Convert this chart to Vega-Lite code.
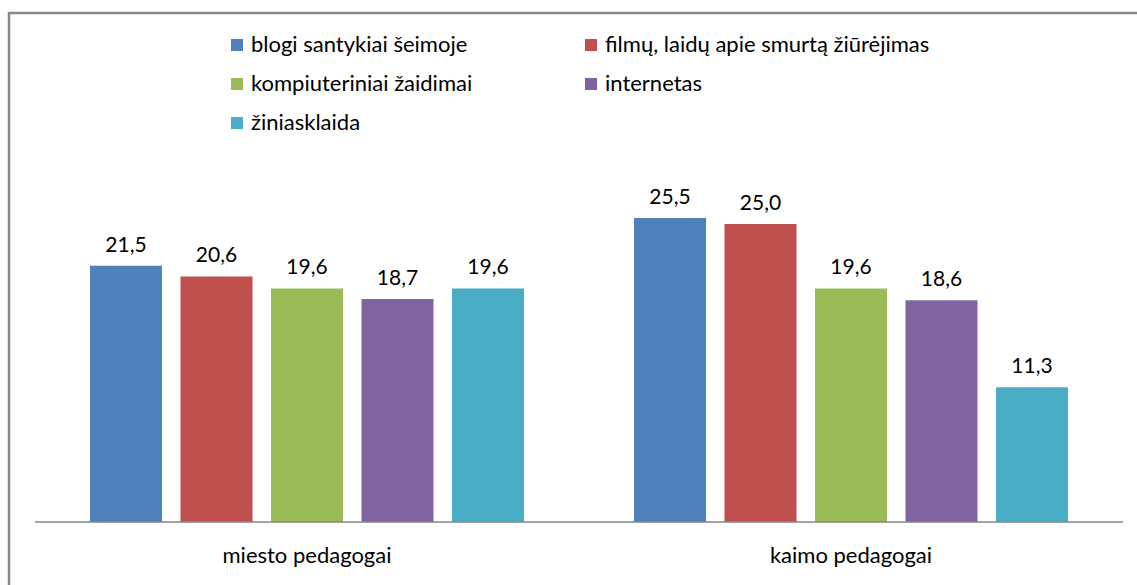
{
  "$schema": "https://vega.github.io/schema/vega-lite/v6.json",
  "width": 1140,
  "height": 587,
  "padding": {"left": 9, "top": 13, "right": 0, "bottom": 0},
  "autosize": {"type": "pad"},
  "config": {
    "view": {"stroke": "#878787", "strokeWidth": 2.5},
    "font": "Lato",
    "locale": {"number": {"decimal": ",", "thousands": " ", "grouping": [3], "currency": ["", " €"]}}
  },
  "datasets": {
    "bars": [
      {"group": "miesto pedagogai", "cause": "blogi santykiai šeimoje", "value": 21.5},
      {"group": "miesto pedagogai", "cause": "filmų, laidų apie smurtą žiūrėjimas", "value": 20.6},
      {"group": "miesto pedagogai", "cause": "kompiuteriniai žaidimai", "value": 19.6},
      {"group": "miesto pedagogai", "cause": "internetas", "value": 18.7},
      {"group": "miesto pedagogai", "cause": "žiniasklaida", "value": 19.6},
      {"group": "kaimo pedagogai", "cause": "blogi santykiai šeimoje", "value": 25.5},
      {"group": "kaimo pedagogai", "cause": "filmų, laidų apie smurtą žiūrėjimas", "value": 25.0},
      {"group": "kaimo pedagogai", "cause": "kompiuteriniai žaidimai", "value": 19.6},
      {"group": "kaimo pedagogai", "cause": "internetas", "value": 18.6},
      {"group": "kaimo pedagogai", "cause": "žiniasklaida", "value": 11.3}
    ],
    "groups": [
      {"group": "miesto pedagogai"},
      {"group": "kaimo pedagogai"}
    ]
  },
  "data": {"name": "bars"},
  "layer": [
    {
      "mark": {"type": "bar"},
      "encoding": {
        "x": {
          "field": "group", "type": "nominal",
          "sort": ["miesto pedagogai", "kaimo pedagogai"],
          "scale": {"paddingInner": 0, "paddingOuter": 0.0478},
          "axis": {"title": null, "domain": false, "ticks": false, "labelAngle": 0, "labelFontSize": 22, "labelColor": "#000", "labelBaseline": "top", "labelPadding": 0, "offset": -55, "labelFont": "Lato"}
        },
        "xOffset": {
          "field": "cause", "type": "nominal",
          "sort": ["blogi santykiai šeimoje", "filmų, laidų apie smurtą žiūrėjimas", "kompiuteriniai žaidimai", "internetas", "žiniasklaida"],
          "scale": {"paddingInner": 0.204, "paddingOuter": 0.6075}
        },
        "y": {"field": "value", "type": "quantitative", "scale": {"domain": [-6.54, 42.7], "nice": false, "zero": false}, "axis": null},
        "y2": {"datum": 0},
        "color": {
          "field": "cause", "type": "nominal",
          "scale": {
            "domain": ["blogi santykiai šeimoje", "filmų, laidų apie smurtą žiūrėjimas", "kompiuteriniai žaidimai", "internetas", "žiniasklaida"],
            "range": ["#4F81BD", "#C0504D", "#9BBB59", "#8064A2", "#4BACC6"]
          },
          "legend": {
            "title": null, "orient": "none", "legendX": 217, "legendY": 21,
            "columns": 2, "direction": "horizontal", "symbolType": "square", "symbolSize": 144, "symbolStrokeWidth": 0,
            "labelFontSize": 22, "labelColor": "#000", "labelFont": "Lato",
            "rowPadding": 17, "columnPadding": 107, "labelOffset": 3, "labelLimit": 0
          }
        }
      }
    },
    {
      "mark": {"type": "text", "baseline": "alphabetic", "dy": -14, "fontSize": 21, "color": "#000"},
      "encoding": {
        "x": {"field": "group", "type": "nominal", "sort": ["miesto pedagogai", "kaimo pedagogai"]},
        "xOffset": {"field": "cause", "type": "nominal", "sort": ["blogi santykiai šeimoje", "filmų, laidų apie smurtą žiūrėjimas", "kompiuteriniai žaidimai", "internetas", "žiniasklaida"]},
        "y": {"field": "value", "type": "quantitative"},
        "text": {"field": "value", "type": "quantitative", "format": ".1f"}
      }
    },
    {
      "data": {"name": "groups"},
      "mark": {"type": "rule", "color": "#868686", "strokeWidth": 1.5},
      "encoding": {
        "x": {"field": "group", "type": "nominal", "sort": ["miesto pedagogai", "kaimo pedagogai"], "bandPosition": 0},
        "x2": {"field": "group", "bandPosition": 1},
        "y": {"datum": 0}
      }
    }
  ]
}
